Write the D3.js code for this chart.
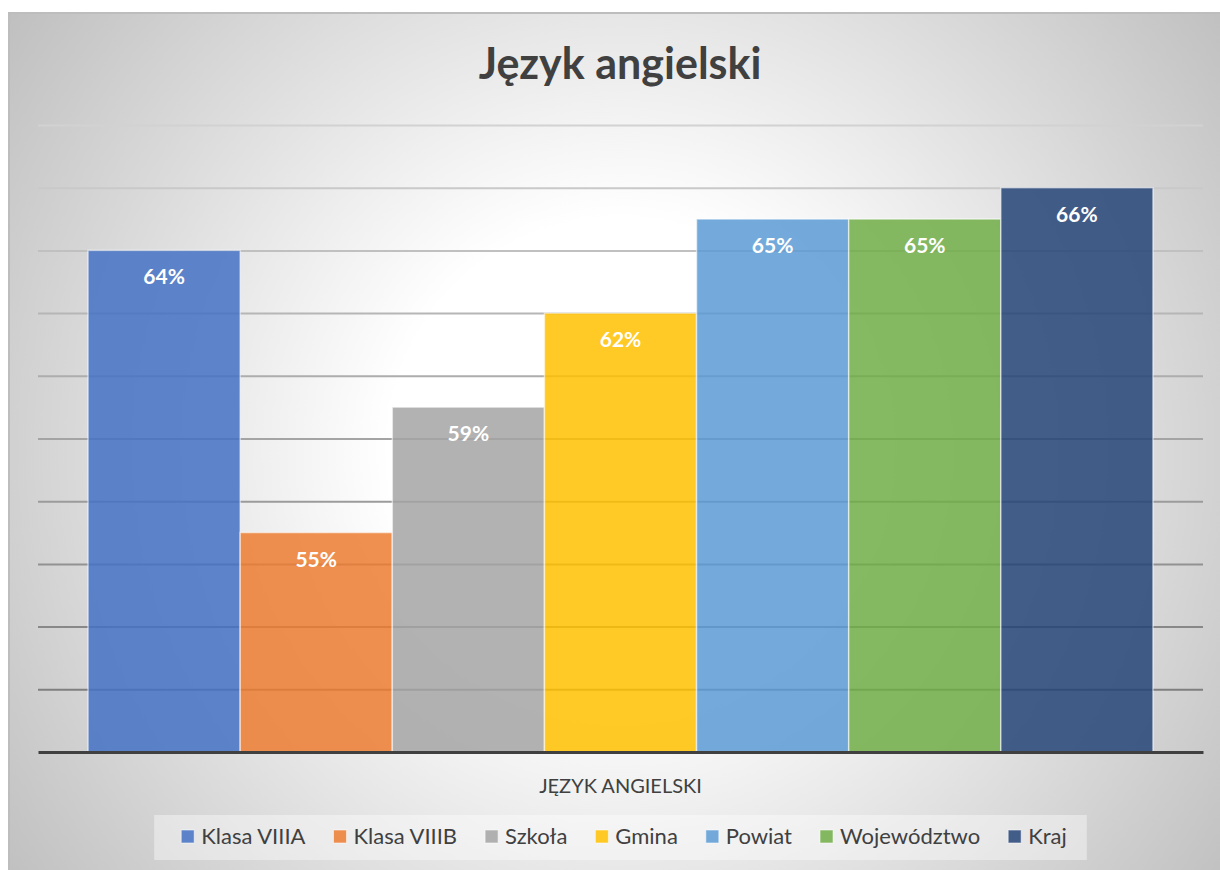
<!DOCTYPE html>
<html>
<head>
<meta charset="utf-8">
<script src="https://cdn.jsdelivr.net/npm/d3@7"></script>
<style>
  body { margin: 0; background: #fff; }
  text { font-family: Lato, "Open Sans", sans-serif; }
</style>
</head>
<body>
<div id="chart"></div>
<script>
// data
var categories = ["JĘZYK ANGIELSKI"];
var seriesNames = ["Klasa VIIIA", "Klasa VIIIB", "Szkoła", "Gmina", "Powiat", "Województwo", "Kraj"];
var seriesValues = [64, 55, 59, 62, 65, 65, 66];
var seriesColors = ["#4472C4", "#ED7D31", "#A5A5A5", "#FFC000", "#5B9BD5", "#70AD47", "#264478"];
var yTicks = [48, 50, 52, 54, 56, 58, 60, 62, 64, 66, 68];

var W = 1220, H = 870;
var margin = {top: 125, right: 17, bottom: 118, left: 38},
    width = W - margin.left - margin.right,
    height = H - margin.top - margin.bottom;

var svg = d3.select("#chart")
  .append("svg")
    .attr("width", W)
    .attr("height", H);

var defs = svg.append("defs");
var bg = defs.append("radialGradient")
  .attr("id", "bg")
  .attr("gradientUnits", "userSpaceOnUse")
  .attr("cx", 620).attr("cy", 450).attr("r", 770);
bg.append("stop").attr("offset", "0").attr("stop-color", "#ffffff");
bg.append("stop").attr("offset", "0.3").attr("stop-color", "#ffffff");
bg.append("stop").attr("offset", "1").attr("stop-color", "#bdbdbd");

// chart area background + frame
svg.append("rect")
  .attr("x", 9).attr("y", 13)
  .attr("width", W).attr("height", H)
  .attr("fill", "url(#bg)")
  .attr("stroke", "#bdbdbd")
  .attr("stroke-width", 2);

// title
svg.append("text")
  .attr("x", 620).attr("y", 79)
  .attr("text-anchor", "middle")
  .style("font-size", "43px")
  .style("font-weight", "bold")
  .style("fill", "#404040")
  .text("Język angielski");

var g = svg.append("g")
  .attr("transform", "translate(" + margin.left + "," + margin.top + ")");

// scales
var x0 = d3.scaleBand()
  .domain(categories)
  .range([0, width])
  .paddingInner(0)
  .paddingOuter(0.047);

var x1 = d3.scaleBand()
  .domain(seriesNames)
  .range([0, x0.bandwidth()])
  .padding(0);

var y = d3.scaleLinear()
  .domain([48, 68])
  .range([height, 0]);

var color = d3.scaleOrdinal()
  .domain(seriesNames)
  .range(seriesColors);

// gridlines get darker towards the bottom
var gridColor = d3.interpolateRgb("#d2d2d2", "#767676");

g.append("g")
  .attr("class", "grid")
  .call(d3.axisLeft(y).tickValues(yTicks.slice(1)).tickSize(-width).tickFormat(""))
  .call(function(s) {
    s.select(".domain").remove();
    s.selectAll("line")
      .attr("stroke", function(d) { return gridColor(y(d) / height); })
      .attr("stroke-width", 2);
  });

// bars
var rows = seriesNames.map(function(n, i) { return {name: n, value: seriesValues[i], cat: categories[0]}; });

var bars = g.append("g").selectAll("g")
  .data(rows)
  .enter().append("g")
    .attr("transform", function(d) { return "translate(" + (x0(d.cat) + x1(d.name)) + ",0)"; });

bars.append("rect")
  .attr("x", 0)
  .attr("y", function(d) { return y(d.value); })
  .attr("width", x1.bandwidth())
  .attr("height", function(d) { return height - y(d.value); })
  .attr("fill", function(d) { return color(d.name); })
  .attr("fill-opacity", 0.85)
  .attr("stroke", "#ffffff")
  .attr("stroke-opacity", 0.55)
  .attr("stroke-width", 1.5);

bars.append("text")
  .attr("x", x1.bandwidth() / 2)
  .attr("y", function(d) { return y(d.value) + 34; })
  .attr("text-anchor", "middle")
  .style("font-size", "21px")
  .style("font-weight", "bold")
  .style("fill", "#ffffff")
  .text(function(d) { return d.value + "%"; });

// x axis (baseline + category label)
var xAxis = g.append("g")
  .attr("transform", "translate(0," + height + ")")
  .call(d3.axisBottom(x0).tickSize(0).tickPadding(27));
xAxis.select(".domain").attr("stroke", "#404040").attr("stroke-width", 3);
xAxis.selectAll("text")
  .style("font-family", "Lato, 'Open Sans', sans-serif")
  .style("font-size", "20px")
  .style("fill", "#404040");

// legend
var legend = svg.append("g").attr("id", "legend");
var legendBox = legend.append("rect")
  .attr("y", 815).attr("height", 45)
  .attr("fill", "#ffffff").attr("fill-opacity", 0.4);

var items = legend.selectAll("g.item")
  .data(seriesNames)
  .enter().append("g").attr("class", "item");

items.append("rect")
  .attr("x", 0).attr("y", 830)
  .attr("width", 13).attr("height", 13)
  .attr("fill", function(d) { return color(d); })
  .attr("fill-opacity", 0.85)
  .attr("stroke", "#ffffff").attr("stroke-opacity", 0.55);

items.append("text")
  .attr("x", 20).attr("y", 844)
  .style("font-size", "22px")
  .style("fill", "#404040")
  .text(function(d) { return d; });

var gap = 28;
var offsets = [], pos = 0;
items.each(function(d) {
  offsets.push(pos);
  pos += 20 + d3.select(this).select("text").node().getComputedTextLength() + gap;
});
var total = pos - gap;
var startX = 620 - total / 2 + 4;
items.attr("transform", function(d, i) { return "translate(" + (startX + offsets[i]) + ",0)"; });
legendBox.attr("x", startX - 27).attr("width", total + 47);
</script>
</body>
</html>
